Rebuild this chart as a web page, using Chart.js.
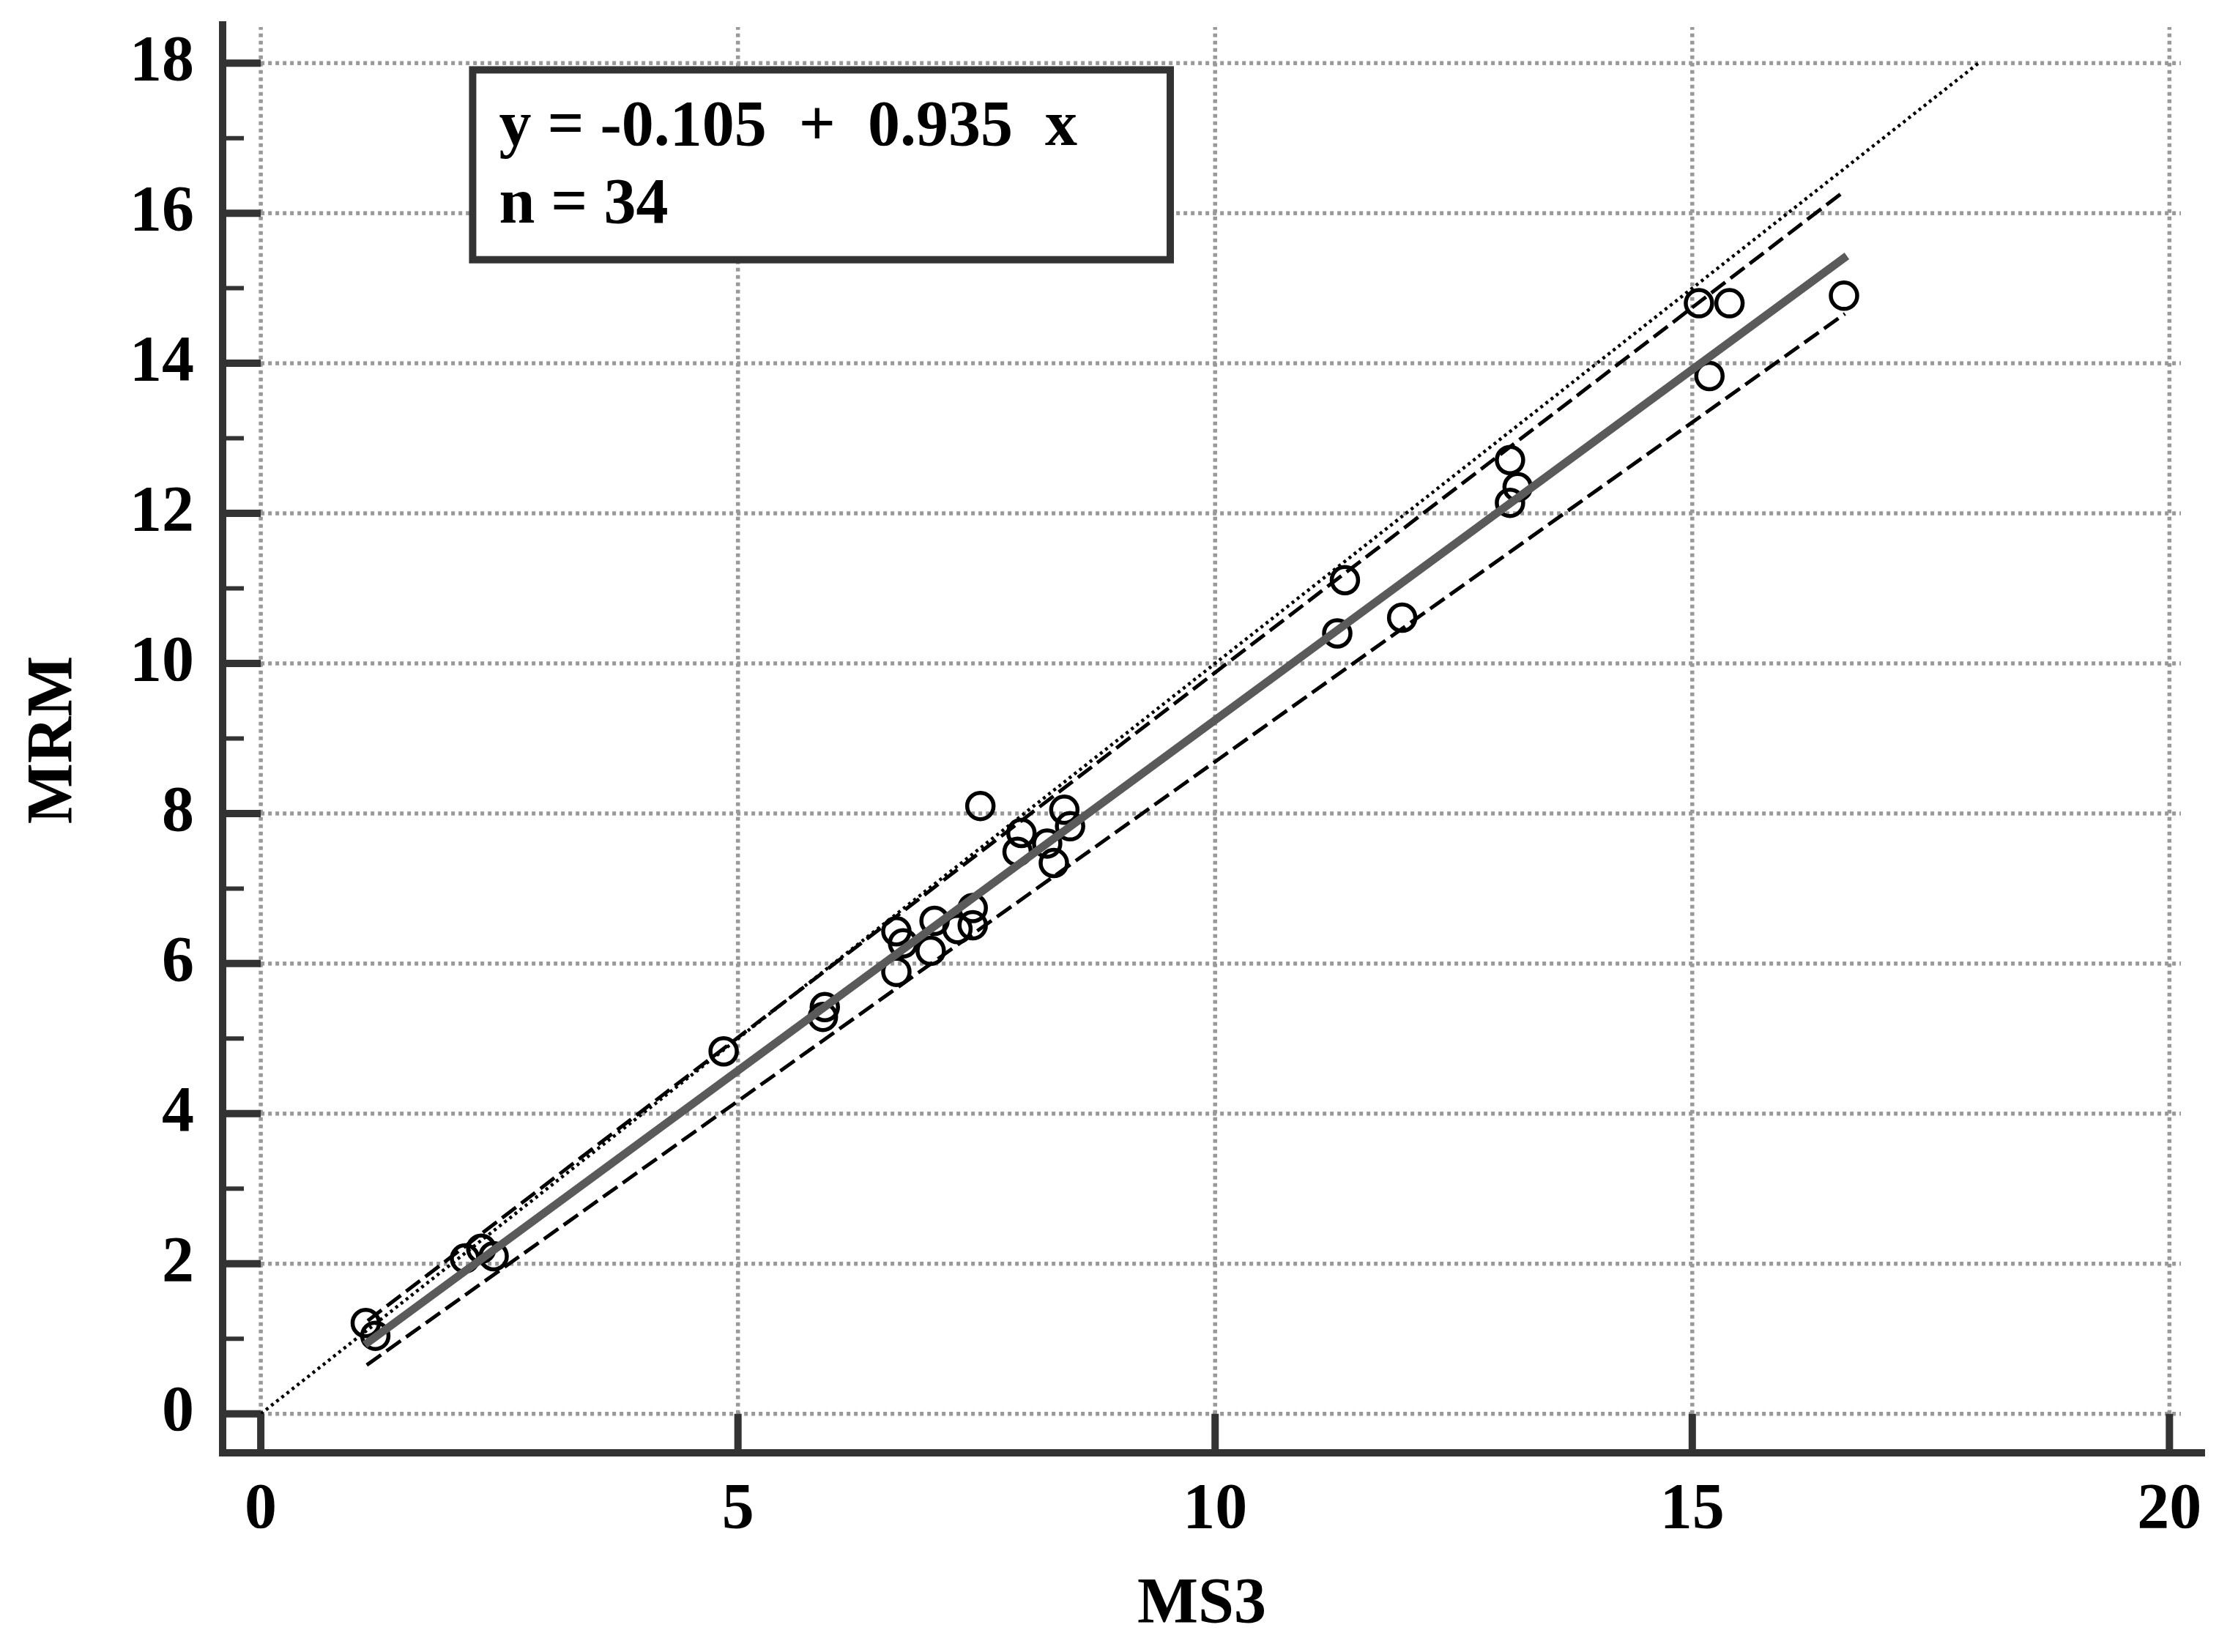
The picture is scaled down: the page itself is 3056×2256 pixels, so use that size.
<!DOCTYPE html>
<html>
<head>
<meta charset="utf-8">
<title>MRM vs MS3</title>
<script src="https://cdn.jsdelivr.net/npm/chart.js@4.4.1/dist/chart.umd.min.js"></script>
<style>
  html, body { margin: 0; padding: 0; background: #fff; }
  canvas { display: block; }
</style>
</head>
<body>
<canvas id="scatterChart" width="3056" height="2256"></canvas>
<script>
const ms3 = [1.10, 1.20, 2.14, 2.31, 2.44, 4.85, 5.89, 5.91,
  6.66, 6.73, 7.06, 7.02, 7.30, 7.46, 7.46, 6.66,
  7.54, 8.42, 8.48, 7.97, 7.93, 8.24, 8.31,
  11.36, 11.28, 11.96, 13.09, 13.17, 13.09,
  15.07, 15.39, 15.18, 16.59];
const mrm = [1.21, 1.04, 2.07, 2.20, 2.10, 4.83, 5.29, 5.42,
  6.43, 6.27, 6.57, 6.17, 6.46, 6.74, 6.51, 5.89,
  8.10, 8.05, 7.83, 7.74, 7.49, 7.60, 7.34,
  11.11, 10.40, 10.61, 12.71, 12.35, 12.14,
  14.80, 14.80, 13.83, 14.90];

// Regression line y = -0.105 + 0.935 x, over the range of the data
const fitX = [1.09, 16.62];
const fitY = [0.92, 15.43];

// Dashed interval lines
const upperX = [1.12, 16.58];
const upperY = [1.24, 16.28];
const lowerX = [1.11, 16.60];
const lowerY = [0.65, 14.66];

// Line of identity
const identX = [0, 18];
const identY = [0, 18];

// Axis ticks
const xTicks = [0, 5, 10, 15, 20];
const yTicks = [0, 2, 4, 6, 8, 10, 12, 14, 16, 18];
const yMinorTicks = [1, 3, 5, 7, 9, 11, 13, 15, 17];

const equationText = 'y = -0.105  +  0.935  x';
const countText = 'n = 34';

const toPoints = (xs, ys) => xs.map((x, i) => ({ x: x, y: ys[i] }));

const serif = '"Liberation Serif", "Times New Roman", serif';
const labelFont = { family: serif, size: 88, weight: 'bold' };

// Draws the offset axes, the tick marks, dotted grid and the equation box
const axisFrame = {
  id: 'axisFrame',
  beforeDatasetsDraw(chart) {
    const { ctx, chartArea, scales: { x, y } } = chart;
    const x0 = x.getPixelForValue(0);
    const y0 = y.getPixelForValue(0);
    ctx.save();
    ctx.strokeStyle = '#999999';
    ctx.lineWidth = 5.5;
    ctx.setLineDash([5, 5]);
    xTicks.forEach(v => {
      const px = x.getPixelForValue(v);
      ctx.beginPath();
      ctx.moveTo(px, y0);
      ctx.lineTo(px, chartArea.top);
      ctx.stroke();
    });
    yTicks.forEach(v => {
      const py = y.getPixelForValue(v);
      ctx.beginPath();
      ctx.moveTo(x0, py);
      ctx.lineTo(chartArea.right, py);
      ctx.stroke();
    });
    ctx.restore();
  },
  afterDatasetsDraw(chart) {
    const { ctx, chartArea, scales: { x, y } } = chart;
    const x0 = x.getPixelForValue(0);
    const y0 = y.getPixelForValue(0);
    const left = chartArea.left;
    const bottom = chartArea.bottom;
    ctx.save();
    ctx.strokeStyle = '#333333';
    ctx.setLineDash([]);

    // axis lines
    ctx.lineWidth = 10;
    ctx.beginPath();
    ctx.moveTo(left, chartArea.top - 8);
    ctx.lineTo(left, bottom + 5);
    ctx.moveTo(left - 5, bottom);
    ctx.lineTo(chartArea.right + 33, bottom);
    ctx.stroke();

    // major ticks run from the axis to the zero line
    ctx.beginPath();
    yTicks.forEach(v => {
      const py = y.getPixelForValue(v);
      ctx.moveTo(left, py);
      ctx.lineTo(x0, py);
    });
    xTicks.forEach(v => {
      const px = x.getPixelForValue(v);
      ctx.moveTo(px, bottom);
      ctx.lineTo(px, y0);
    });
    ctx.stroke();

    // minor ticks
    ctx.lineWidth = 6;
    ctx.beginPath();
    yMinorTicks.forEach(v => {
      const py = y.getPixelForValue(v);
      ctx.moveTo(left, py);
      ctx.lineTo(left + 29, py);
    });
    ctx.stroke();

    // equation box
    const bx1 = x.getPixelForValue(2.22);
    const bx2 = x.getPixelForValue(9.53);
    const by1 = y.getPixelForValue(17.91);
    const by2 = y.getPixelForValue(15.38);
    ctx.fillStyle = '#ffffff';
    ctx.fillRect(bx1, by1, bx2 - bx1, by2 - by1);
    ctx.lineWidth = 10;
    ctx.strokeRect(bx1, by1, bx2 - bx1, by2 - by1);
    ctx.fillStyle = '#000000';
    ctx.font = 'bold 88px ' + serif;
    ctx.textAlign = 'left';
    ctx.textBaseline = 'alphabetic';
    ctx.fillText(equationText, bx1 + 36, by1 + 103);
    ctx.fillText(countText, bx1 + 36, by1 + 209);
    ctx.restore();
  }
};

const ctx = document.getElementById('scatterChart').getContext('2d');
new Chart(ctx, {
  type: 'scatter',
  data: {
    datasets: [
      {
        label: 'Fit',
        data: toPoints(fitX, fitY),
        showLine: true,
        borderColor: '#5a5a5a',
        borderWidth: 11,
        pointRadius: 0,
        order: 0
      },
      {
        label: 'Upper',
        data: toPoints(upperX, upperY),
        showLine: true,
        borderColor: '#000000',
        borderWidth: 5,
        borderDash: [24, 9],
        pointRadius: 0,
        order: 1
      },
      {
        label: 'Lower',
        data: toPoints(lowerX, lowerY),
        showLine: true,
        borderColor: '#000000',
        borderWidth: 5,
        borderDash: [24, 9],
        pointRadius: 0,
        order: 2
      },
      {
        label: 'Identity',
        data: toPoints(identX, identY),
        showLine: true,
        borderColor: '#000000',
        borderWidth: 4.5,
        borderDash: [4, 5],
        pointRadius: 0,
        order: 3
      },
      {
        label: 'MRM vs MS3',
        data: toPoints(ms3, mrm),
        pointRadius: 18,
        pointBorderWidth: 5.5,
        pointBorderColor: '#000000',
        pointBackgroundColor: 'rgba(0,0,0,0)',
        order: 4
      }
    ]
  },
  options: {
    responsive: false,
    devicePixelRatio: 1,
    animation: false,
    layout: { padding: { top: 37, right: 78, left: 0, bottom: 0 } },
    plugins: {
      legend: { display: false },
      tooltip: { enabled: false }
    },
    scales: {
      x: {
        type: 'linear',
        min: -0.40,
        max: 20.12,
        afterBuildTicks: s => { s.ticks = xTicks.map(v => ({ value: v })); },
        afterFit: s => {
          s.height = 272;
          s.paddingLeft = 0; s.paddingRight = 0;
        },
        grid: { display: false },
        border: { display: false },
        ticks: { font: labelFont, color: '#000', padding: 18, maxRotation: 0, autoSkip: false },
        title: { display: true, text: 'MS3', font: labelFont, color: '#000', padding: { top: 0, bottom: 11 } }
      },
      y: {
        type: 'linear',
        min: -0.52,
        max: 18.48,
        afterBuildTicks: s => { s.ticks = yTicks.map(v => ({ value: v })); },
        afterFit: s => {
          s.width = 304;
          s.paddingTop = 0; s.paddingBottom = 0;
        },
        grid: { display: false },
        border: { display: false },
        ticks: { font: labelFont, color: '#000', padding: 31, autoSkip: false },
        title: { display: true, text: 'MRM', font: labelFont, color: '#000', padding: { top: 21, bottom: 0 } }
      }
    }
  },
  plugins: [axisFrame]
});
</script>
</body>
</html>
